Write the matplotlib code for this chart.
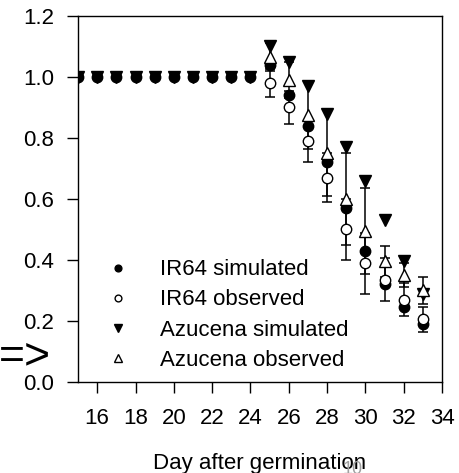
import matplotlib
matplotlib.use("Agg")
import matplotlib.pyplot as plt

plt.rcParams["font.family"] = ["Liberation Sans", "DejaVu Sans"]

# simulated series cover every day, observations start at day 25
sim_days = [15, 16, 17, 18, 19, 20, 21, 22, 23, 24, 25, 26, 27, 28, 29, 30, 31, 32, 33]
ir64_sim = [1.0, 1.0, 1.0, 1.0, 1.0, 1.0, 1.0, 1.0, 1.0, 1.0,
            1.04, 0.94, 0.84, 0.72, 0.57, 0.43, 0.32, 0.245, 0.19]
azucena_sim = [1.0, 1.0, 1.0, 1.0, 1.0, 1.0, 1.0, 1.0, 1.0, 1.0,
               1.10, 1.05, 0.97, 0.88, 0.77, 0.66, 0.53, 0.395, 0.29]

obs_days = [25, 26, 27, 28, 29, 30, 31, 32, 33]
ir64_obs = [0.98, 0.90, 0.79, 0.67, 0.50, 0.39, 0.335, 0.27, 0.205]
ir64_err = [0.045, 0.055, 0.07, 0.08, 0.10, 0.10, 0.07, 0.055, 0.04]
azucena_obs = [1.065, 0.99, 0.875, 0.75, 0.60, 0.495, 0.395, 0.35, 0.30]
azucena_err = [0.045, 0.06, 0.11, 0.14, 0.15, 0.14, 0.05, 0.04, 0.045]

x_ticks = [16, 18, 20, 22, 24, 26, 28, 30, 32, 34]
y_ticks = [0.0, 0.2, 0.4, 0.6, 0.8, 1.0, 1.2]

fig = plt.figure(figsize=(4.59, 4.73), dpi=100)
ax = fig.add_axes([0.170, 0.1924, 0.793, 0.774])

err_style = dict(fmt="none", ecolor="black", elinewidth=1.1, capsize=3.8, capthick=1.1, zorder=1)
ax.errorbar(obs_days, ir64_obs, yerr=ir64_err, **err_style)
ax.errorbar(obs_days, azucena_obs, yerr=azucena_err, **err_style)

ms = 7.5
ax.plot(sim_days, ir64_sim, "o", color="black", ms=ms, label="IR64 simulated", zorder=3)
ax.plot(obs_days, ir64_obs, "o", mfc="white", mec="black", mew=1.0, ms=ms,
        label="IR64 observed", zorder=4)
ax.plot(sim_days, azucena_sim, "v", color="black", ms=ms + 0.8, label="Azucena simulated", zorder=3)
ax.plot(obs_days, azucena_obs, "^", mfc="white", mec="black", mew=1.0, ms=ms + 0.8,
        label="Azucena observed", zorder=4)

ax.set_xlim(15, 34)
ax.set_ylim(0, 1.2)
ax.set_xticks(x_ticks)
ax.set_yticks(y_ticks)
ax.set_yticklabels([f"{v:.1f}" for v in y_ticks])
ax.tick_params(axis="both", direction="out", length=8, width=1.0, labelsize=16, pad=9)
ax.tick_params(axis="x", pad=11)
for sp in ax.spines.values():
    sp.set_linewidth(1.0)

ax.set_xlabel("Day after germination", fontsize=16, labelpad=17)

ax.legend(loc="upper left", bbox_to_anchor=(0.085, 0.335), frameon=False, fontsize=16,
          markerscale=0.65, handlelength=0.8, handletextpad=1.5, labelspacing=0.41,
          borderaxespad=0, borderpad=0)

fig.text(51 / 459, 1 - 357 / 473, "=>", ha="right", va="center", fontsize=32)
# faint grey mark overlapping the end of the axis label
fig.text(343 / 459, 1 - 461 / 473, "10", ha="left", va="top", fontsize=13, color="#a0a0a0")

fig.savefig("out.png", dpi=100)
